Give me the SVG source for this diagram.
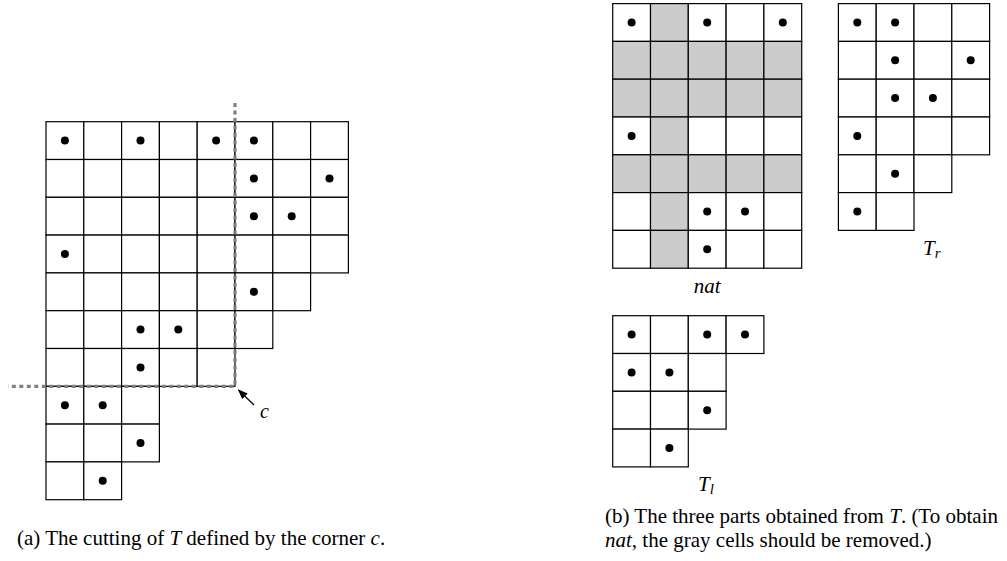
<svg xmlns="http://www.w3.org/2000/svg" xmlns:xlink="http://www.w3.org/1999/xlink" width="1007" height="561" viewBox="0 0 1007 561">
<style>
.c{fill:#fff;stroke:#000;stroke-width:1.2}
.g{fill:#cccccc;stroke:#000;stroke-width:1.2}
.d{fill:#000}
.t{font-family:"Liberation Serif","Times New Roman",serif;font-size:21px;fill:#000}
.m{font-family:"Liberation Serif","Times New Roman",serif;font-style:italic;fill:#000}
.cut{fill:none;stroke:#808080;stroke-width:3.2;stroke-dasharray:4 3.5;stroke-linejoin:round}
</style>
<defs>
<rect id="cell" class="c" width="37.8" height="37.8"/>
<rect id="gcell" class="g" width="37.8" height="37.8"/>
<circle id="dot" class="d" r="4"/>
<marker id="ah" markerWidth="10" markerHeight="8" refX="9" refY="4" orient="auto" markerUnits="userSpaceOnUse">
<path d="M0,0 L10,4 L0,8 z" fill="#000"/>
</marker>
</defs>

<g id="tableau-T" transform="translate(46,121.7)">
<use href="#cell" x="0" y="0"/><use href="#cell" x="37.8" y="0"/><use href="#cell" x="75.6" y="0"/><use href="#cell" x="113.4" y="0"/><use href="#cell" x="151.2" y="0"/><use href="#cell" x="189" y="0"/><use href="#cell" x="226.8" y="0"/><use href="#cell" x="264.6" y="0"/>
<use href="#cell" x="0" y="37.8"/><use href="#cell" x="37.8" y="37.8"/><use href="#cell" x="75.6" y="37.8"/><use href="#cell" x="113.4" y="37.8"/><use href="#cell" x="151.2" y="37.8"/><use href="#cell" x="189" y="37.8"/><use href="#cell" x="226.8" y="37.8"/><use href="#cell" x="264.6" y="37.8"/>
<use href="#cell" x="0" y="75.6"/><use href="#cell" x="37.8" y="75.6"/><use href="#cell" x="75.6" y="75.6"/><use href="#cell" x="113.4" y="75.6"/><use href="#cell" x="151.2" y="75.6"/><use href="#cell" x="189" y="75.6"/><use href="#cell" x="226.8" y="75.6"/><use href="#cell" x="264.6" y="75.6"/>
<use href="#cell" x="0" y="113.4"/><use href="#cell" x="37.8" y="113.4"/><use href="#cell" x="75.6" y="113.4"/><use href="#cell" x="113.4" y="113.4"/><use href="#cell" x="151.2" y="113.4"/><use href="#cell" x="189" y="113.4"/><use href="#cell" x="226.8" y="113.4"/><use href="#cell" x="264.6" y="113.4"/>
<use href="#cell" x="0" y="151.2"/><use href="#cell" x="37.8" y="151.2"/><use href="#cell" x="75.6" y="151.2"/><use href="#cell" x="113.4" y="151.2"/><use href="#cell" x="151.2" y="151.2"/><use href="#cell" x="189" y="151.2"/><use href="#cell" x="226.8" y="151.2"/>
<use href="#cell" x="0" y="189"/><use href="#cell" x="37.8" y="189"/><use href="#cell" x="75.6" y="189"/><use href="#cell" x="113.4" y="189"/><use href="#cell" x="151.2" y="189"/><use href="#cell" x="189" y="189"/>
<use href="#cell" x="0" y="226.8"/><use href="#cell" x="37.8" y="226.8"/><use href="#cell" x="75.6" y="226.8"/><use href="#cell" x="113.4" y="226.8"/><use href="#cell" x="151.2" y="226.8"/>
<use href="#cell" x="0" y="264.6"/><use href="#cell" x="37.8" y="264.6"/><use href="#cell" x="75.6" y="264.6"/>
<use href="#cell" x="0" y="302.4"/><use href="#cell" x="37.8" y="302.4"/><use href="#cell" x="75.6" y="302.4"/>
<use href="#cell" x="0" y="340.2"/><use href="#cell" x="37.8" y="340.2"/>
<use href="#dot" x="18.9" y="18.9"/><use href="#dot" x="94.5" y="18.9"/><use href="#dot" x="170.1" y="18.9"/><use href="#dot" x="207.9" y="18.9"/>
<use href="#dot" x="207.9" y="56.7"/><use href="#dot" x="283.5" y="56.7"/>
<use href="#dot" x="207.9" y="94.5"/><use href="#dot" x="245.7" y="94.5"/>
<use href="#dot" x="18.9" y="132.3"/>
<use href="#dot" x="207.9" y="170.1"/>
<use href="#dot" x="94.5" y="207.9"/><use href="#dot" x="132.3" y="207.9"/>
<use href="#dot" x="94.5" y="245.7"/>
<use href="#dot" x="18.9" y="283.5"/><use href="#dot" x="56.7" y="283.5"/>
<use href="#dot" x="94.5" y="321.3"/>
<use href="#dot" x="56.7" y="359.1"/>
</g>

<g id="connectors">
<path id="cut-line" class="cut" d="M235,103 L235,386.3 L8,386.3"/>
<line id="corner-arrow" x1="254" y1="405" x2="238.5" y2="390" stroke="#000" stroke-width="1.2" marker-end="url(#ah)"/>
</g>
<g id="label-c"><text class="m" x="260" y="418" font-size="20">c</text></g>

<g id="tableau-nat" transform="translate(612.7,3.6)">
<use href="#cell" x="0" y="0"/><use href="#gcell" x="37.8" y="0"/><use href="#cell" x="75.6" y="0"/><use href="#cell" x="113.4" y="0"/><use href="#cell" x="151.2" y="0"/>
<use href="#gcell" x="0" y="37.8"/><use href="#gcell" x="37.8" y="37.8"/><use href="#gcell" x="75.6" y="37.8"/><use href="#gcell" x="113.4" y="37.8"/><use href="#gcell" x="151.2" y="37.8"/>
<use href="#gcell" x="0" y="75.6"/><use href="#gcell" x="37.8" y="75.6"/><use href="#gcell" x="75.6" y="75.6"/><use href="#gcell" x="113.4" y="75.6"/><use href="#gcell" x="151.2" y="75.6"/>
<use href="#cell" x="0" y="113.4"/><use href="#gcell" x="37.8" y="113.4"/><use href="#cell" x="75.6" y="113.4"/><use href="#cell" x="113.4" y="113.4"/><use href="#cell" x="151.2" y="113.4"/>
<use href="#gcell" x="0" y="151.2"/><use href="#gcell" x="37.8" y="151.2"/><use href="#gcell" x="75.6" y="151.2"/><use href="#gcell" x="113.4" y="151.2"/><use href="#gcell" x="151.2" y="151.2"/>
<use href="#cell" x="0" y="189"/><use href="#gcell" x="37.8" y="189"/><use href="#cell" x="75.6" y="189"/><use href="#cell" x="113.4" y="189"/><use href="#cell" x="151.2" y="189"/>
<use href="#cell" x="0" y="226.8"/><use href="#gcell" x="37.8" y="226.8"/><use href="#cell" x="75.6" y="226.8"/><use href="#cell" x="113.4" y="226.8"/><use href="#cell" x="151.2" y="226.8"/>
<use href="#dot" x="18.9" y="18.9"/><use href="#dot" x="94.5" y="18.9"/><use href="#dot" x="170.1" y="18.9"/>
<use href="#dot" x="18.9" y="132.3"/>
<use href="#dot" x="94.5" y="207.9"/><use href="#dot" x="132.3" y="207.9"/>
<use href="#dot" x="94.5" y="245.7"/>
<text class="m" x="94.5" y="289.4" font-size="21" text-anchor="middle">nat</text>
</g>

<g id="tableau-Tr" transform="translate(838.4,3.6)">
<use href="#cell" x="0" y="0"/><use href="#cell" x="37.8" y="0"/><use href="#cell" x="75.6" y="0"/><use href="#cell" x="113.4" y="0"/>
<use href="#cell" x="0" y="37.8"/><use href="#cell" x="37.8" y="37.8"/><use href="#cell" x="75.6" y="37.8"/><use href="#cell" x="113.4" y="37.8"/>
<use href="#cell" x="0" y="75.6"/><use href="#cell" x="37.8" y="75.6"/><use href="#cell" x="75.6" y="75.6"/><use href="#cell" x="113.4" y="75.6"/>
<use href="#cell" x="0" y="113.4"/><use href="#cell" x="37.8" y="113.4"/><use href="#cell" x="75.6" y="113.4"/><use href="#cell" x="113.4" y="113.4"/>
<use href="#cell" x="0" y="151.2"/><use href="#cell" x="37.8" y="151.2"/><use href="#cell" x="75.6" y="151.2"/>
<use href="#cell" x="0" y="189"/><use href="#cell" x="37.8" y="189"/>
<use href="#dot" x="18.9" y="18.9"/><use href="#dot" x="56.7" y="18.9"/>
<use href="#dot" x="56.7" y="56.7"/><use href="#dot" x="132.3" y="56.7"/>
<use href="#dot" x="56.7" y="94.5"/><use href="#dot" x="94.5" y="94.5"/>
<use href="#dot" x="18.9" y="132.3"/>
<use href="#dot" x="56.7" y="170.1"/>
<use href="#dot" x="18.9" y="207.9"/>
<text class="m" x="84.6" y="251.4" font-size="21">T<tspan font-size="15" dy="3.5">r</tspan></text>
</g>

<g id="tableau-Tl" transform="translate(612.7,315.7)">
<use href="#cell" x="0" y="0"/><use href="#cell" x="37.8" y="0"/><use href="#cell" x="75.6" y="0"/><use href="#cell" x="113.4" y="0"/>
<use href="#cell" x="0" y="37.8"/><use href="#cell" x="37.8" y="37.8"/><use href="#cell" x="75.6" y="37.8"/>
<use href="#cell" x="0" y="75.6"/><use href="#cell" x="37.8" y="75.6"/><use href="#cell" x="75.6" y="75.6"/>
<use href="#cell" x="0" y="113.4"/><use href="#cell" x="37.8" y="113.4"/>
<use href="#dot" x="18.9" y="18.9"/><use href="#dot" x="94.5" y="18.9"/><use href="#dot" x="132.3" y="18.9"/>
<use href="#dot" x="18.9" y="56.7"/><use href="#dot" x="56.7" y="56.7"/>
<use href="#dot" x="94.5" y="94.5"/>
<use href="#dot" x="56.7" y="132.3"/>
<text class="m" x="85.3" y="175.3" font-size="21">T<tspan font-size="15" dy="3.5">l</tspan></text>
</g>

<g id="caption-a">
<text class="t" x="17" y="545">(a) The cutting of <tspan class="m">T</tspan> defined by the corner <tspan class="m">c</tspan>.</text>
</g>
<g id="caption-b">
<text class="t" x="605" y="523">(b) The three parts obtained from <tspan class="m">T</tspan>. (To obtain</text>
<text class="t" x="605" y="547"><tspan class="m">nat</tspan>, the gray cells should be removed.)</text>
</g>
</svg>
